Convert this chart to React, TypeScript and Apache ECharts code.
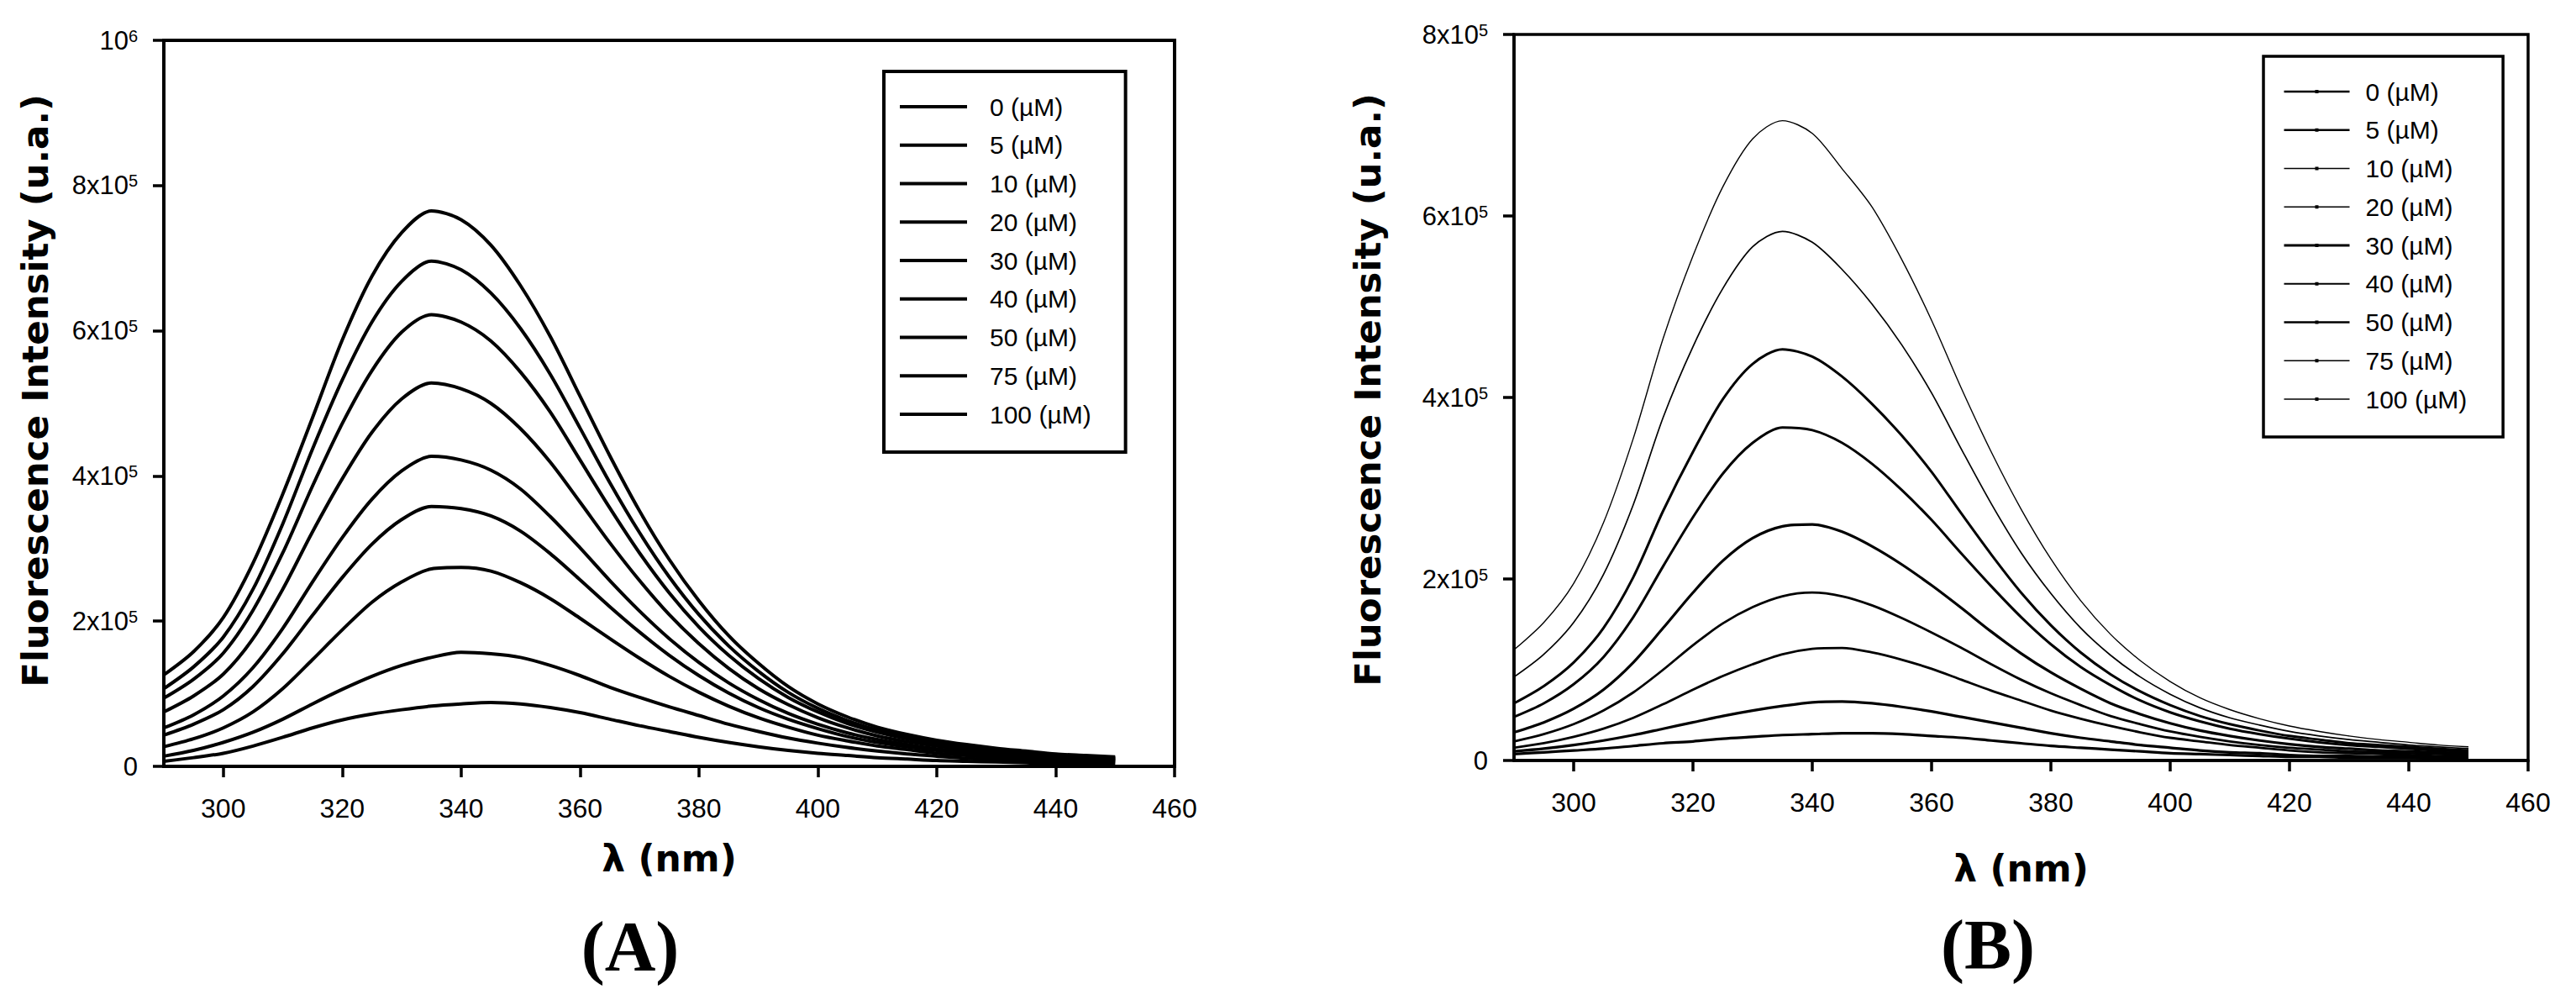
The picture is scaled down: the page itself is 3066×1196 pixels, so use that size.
import React, { useEffect, useRef } from "react";
import * as echarts from "echarts";

// Wavelengths (nm), 5 nm steps
const LAMBDA = [290, 295, 300, 305, 310, 315, 320, 325, 330, 335, 340, 345, 350, 355, 360, 365, 370, 375, 380, 385, 390, 395, 400, 405, 410, 415, 420, 425, 430, 435, 440, 445, 450];
const CONC = ["0", "5", "10", "20", "30", "40", "50", "75", "100"];
const X_TICKS = [300, 320, 340, 360, 380, 400, 420, 440, 460];

// Panel A intensities (x 10^3 a.u.)
const A_0 = [7, 12, 18, 28, 40, 53, 64, 72, 78, 83, 86, 88, 86, 81, 74, 65, 56, 48, 40, 33, 27, 22, 18, 15, 12, 10, 8, 7, 6, 5, 4, 4, 3];
const A_5 = [14, 22, 33, 47, 65, 86, 106, 124, 139, 150, 157, 155, 150, 139, 125, 109, 95, 82, 70, 58, 48, 39, 32, 26, 21, 17, 14, 11, 9, 8, 7, 6, 5];
const A_10 = [27, 38, 53, 75, 107, 147, 188, 226, 254, 272, 274, 269, 253, 231, 204, 176, 149, 124, 102, 83, 67, 54, 43, 35, 28, 23, 18, 15, 12, 10, 9, 8, 7];
const A_20 = [43, 58, 78, 110, 155, 208, 260, 306, 340, 358, 355, 345, 324, 293, 257, 220, 185, 153, 125, 101, 81, 65, 52, 41, 33, 27, 22, 18, 15, 12, 10, 9, 8];
const A_30 = [53, 71, 97, 136, 190, 254, 315, 368, 407, 427, 422, 408, 382, 344, 301, 256, 214, 176, 143, 115, 92, 73, 58, 46, 37, 30, 24, 20, 16, 14, 12, 10, 9];
const A_40 = [75, 97, 127, 176, 244, 323, 396, 460, 506, 528, 520, 500, 465, 419, 364, 308, 256, 209, 169, 135, 107, 85, 67, 53, 42, 34, 28, 23, 19, 16, 13, 11, 10];
const A_50 = [94, 120, 156, 215, 294, 386, 472, 545, 598, 622, 612, 586, 543, 488, 422, 356, 294, 239, 192, 153, 121, 95, 75, 59, 47, 38, 31, 26, 21, 18, 15, 13, 11];
const A_75 = [107, 137, 178, 244, 334, 437, 532, 612, 668, 696, 684, 652, 603, 540, 466, 391, 322, 261, 209, 166, 131, 102, 80, 63, 50, 41, 34, 28, 23, 19, 16, 14, 12];
const A_100 = [126, 158, 205, 280, 375, 480, 587, 675, 735, 765, 753, 718, 662, 592, 510, 428, 352, 285, 228, 180, 142, 110, 86, 68, 54, 44, 36, 30, 25, 21, 17, 15, 13];

// Panel B intensities (x 10^3 a.u.)
const B_0 = [7, 9, 11, 13, 16, 19, 21, 24, 26, 28, 29, 30, 30, 29, 27, 25, 22, 19, 16, 14, 12, 10, 8, 7, 6, 5, 4, 4, 3, 3, 3, 2, 2];
const B_5 = [10, 13, 17, 22, 28, 35, 42, 49, 55, 60, 64, 65, 63, 59, 54, 48, 42, 36, 30, 25, 21, 17, 14, 11, 9, 8, 6, 5, 5, 4, 4, 3, 3];
const B_10 = [14, 19, 26, 35, 47, 62, 78, 93, 106, 117, 123, 124, 119, 111, 101, 89, 77, 66, 55, 46, 38, 31, 25, 21, 17, 14, 11, 9, 8, 7, 6, 5, 5];
const B_20 = [21, 29, 40, 55, 75, 100, 127, 151, 169, 181, 185, 181, 171, 157, 141, 124, 106, 89, 74, 61, 49, 40, 32, 26, 21, 17, 14, 12, 10, 9, 8, 7, 6];
const B_30 = [31, 42, 57, 78, 108, 146, 185, 220, 245, 258, 260, 252, 236, 216, 193, 168, 142, 118, 97, 79, 63, 51, 41, 33, 27, 22, 18, 15, 13, 11, 10, 9, 8];
const B_40 = [48, 63, 84, 114, 158, 214, 268, 316, 350, 367, 364, 350, 327, 298, 265, 228, 192, 158, 128, 103, 83, 66, 53, 43, 35, 29, 24, 20, 17, 15, 13, 11, 10];
const B_50 = [63, 82, 108, 146, 202, 275, 340, 398, 437, 453, 445, 423, 393, 358, 318, 272, 227, 185, 149, 119, 95, 76, 61, 49, 40, 33, 27, 23, 19, 17, 15, 13, 11];
const B_75 = [92, 117, 152, 205, 282, 378, 456, 520, 566, 583, 571, 541, 503, 458, 405, 343, 283, 229, 184, 146, 116, 92, 73, 58, 47, 39, 32, 27, 23, 20, 17, 15, 13];
const B_100 = [122, 152, 195, 262, 355, 465, 556, 632, 685, 705, 691, 652, 610, 552, 485, 410, 340, 277, 222, 176, 139, 110, 87, 69, 56, 46, 38, 32, 27, 23, 20, 17, 15];

const A_SETS = [A_0, A_5, A_10, A_20, A_30, A_40, A_50, A_75, A_100];
const B_SETS = [B_0, B_5, B_10, B_20, B_30, B_40, B_50, B_75, B_100];
const B_WIDTHS = [3.2, 3.2, 2.8, 2.8, 3.2, 3, 3, 1.7, 1.4];
const B_LEGEND_WIDTHS = [2.5, 2.5, 1.4, 1.4, 3, 2.2, 2.5, 1.4, 1.4];

const TICK_FONT = "'Liberation Sans', Arial, sans-serif";
const TITLE_FONT = "'DejaVu Sans', Verdana, sans-serif";

const toPoints = (arr: number[]) => arr.map((v, i) => [LAMBDA[i], v * 1000]);

const yFmt = (v: number) => {
  if (v === 0) return "0";
  if (v >= 1e6) return "10{s|6}";
  return `${Math.round(v / 1e5)}x10{s|5}`;
};

function makeXAxis(gridIndex: number, lw: number, nameGap: number) {
  return {
    gridIndex,
    type: "value",
    min: 290,
    max: 460,
    axisLine: { show: true, onZero: false, lineStyle: { color: "#000", width: lw } },
    axisTick: { show: true, inside: false, length: 13, customValues: X_TICKS, lineStyle: { color: "#000", width: 3.5 } },
    axisLabel: { customValues: X_TICKS, fontSize: 32, fontFamily: TICK_FONT, color: "#000", margin: 34 },
    splitLine: { show: false },
    name: "λ (nm)",
    nameLocation: "middle",
    nameGap,
    nameTextStyle: { fontFamily: TITLE_FONT, fontWeight: "bold", fontSize: 44, color: "#000" },
  };
}

function makeYAxis(gridIndex: number, max: number, lw: number, nameGap: number, shift: number) {
  return {
    gridIndex,
    type: "value",
    min: 0,
    max,
    interval: 200000,
    axisLine: { show: true, onZero: false, lineStyle: { color: "#000", width: lw } },
    axisTick: { show: true, inside: false, length: 13, lineStyle: { color: "#000", width: 3.5 } },
    axisLabel: {
      formatter: yFmt,
      fontSize: 31,
      fontFamily: TICK_FONT,
      color: "#000",
      margin: 31,
      lineHeight: 31,
      rich: { s: { fontSize: 20, lineHeight: 20, fontFamily: TICK_FONT, color: "#000", verticalAlign: "top" } },
    },
    splitLine: { show: false },
    name: "Fluorescence Intensity (u.a.)",
    nameLocation: "middle",
    nameGap,
    nameTextStyle: { fontFamily: TITLE_FONT, fontWeight: "bold", fontSize: 43.5, color: "#000", padding: [0, 0, 0, shift] },
  };
}

export default function App() {
  const ref = useRef<HTMLDivElement>(null);

  useEffect(() => {
    if (!ref.current) return;
    const chart = echarts.init(ref.current, null, { renderer: "svg" });

    const seriesA = CONC.map((c, i) => ({
      type: "line",
      name: "A:" + c,
      xAxisIndex: 0,
      yAxisIndex: 0,
      data: toPoints(A_SETS[i]),
      showSymbol: false,
      symbol: "none",
      smooth: 0.3,
      silent: true,
      lineStyle: { color: "#000", width: 4 },
      itemStyle: { color: "#000" },
    }));
    const seriesB = CONC.map((c, i) => ({
      type: "line",
      name: "B:" + c,
      xAxisIndex: 1,
      yAxisIndex: 1,
      data: toPoints(B_SETS[i]),
      showSymbol: false,
      symbol: "rect",
      symbolSize: 4,
      smooth: 0.3,
      silent: true,
      lineStyle: { color: "#000", width: B_WIDTHS[i] },
      itemStyle: { color: "#000" },
    }));

    const legendText = { fontSize: 30, lineHeight: 30, fontFamily: TICK_FONT, color: "#000" };

    chart.setOption({
      animation: false,
      backgroundColor: "#fff",
      grid: [
        { left: 195, top: 48, width: 1203, height: 864, show: true, borderColor: "#000", borderWidth: 4, backgroundColor: "transparent" },
        { left: 1802, top: 41, width: 1207, height: 864, show: true, borderColor: "#000", borderWidth: 3.5, backgroundColor: "transparent" },
      ],
      xAxis: [makeXAxis(0, 4, 87), makeXAxis(1, 3.5, 106)],
      yAxis: [makeYAxis(0, 1000000, 4, 131, 30), makeYAxis(1, 800000, 3.5, 152, 18)],
      legend: [
        {
          orient: "vertical",
          left: 1052,
          top: 85,
          padding: [27, 41, 30, 19],
          borderColor: "#000",
          borderWidth: 4,
          backgroundColor: "#fff",
          itemWidth: 80,
          itemHeight: 4,
          itemGap: 15.75,
          icon: "rect",
          selectedMode: false,
          data: CONC.map((c) => "A:" + c),
          formatter: (n: string) => n.slice(2) + " (µM)",
          textStyle: { ...legendText, padding: [0, 0, 0, 22] },
        },
        {
          orient: "vertical",
          left: 2694,
          top: 67,
          padding: [27, 43, 30, 23],
          borderColor: "#000",
          borderWidth: 3.5,
          backgroundColor: "#fff",
          itemWidth: 78,
          itemHeight: 5,
          itemGap: 15.75,
          selectedMode: false,
          data: CONC.map((c, i) => ({ name: "B:" + c, lineStyle: { width: B_LEGEND_WIDTHS[i] } })),
          formatter: (n: string) => n.slice(2) + " (µM)",
          textStyle: { ...legendText, padding: [0, 0, 0, 14] },
        },
      ],
      graphic: [
        { type: "text", x: 750, y: 1126, style: { text: "(A)", fontSize: 84, fontWeight: "bold", fontFamily: "'Liberation Serif', 'Times New Roman', serif", fill: "#000", align: "center", verticalAlign: "middle" } },
        { type: "text", x: 2366, y: 1124, style: { text: "(B)", fontSize: 84, fontWeight: "bold", fontFamily: "'Liberation Serif', 'Times New Roman', serif", fill: "#000", align: "center", verticalAlign: "middle" } },
      ],
      series: [...seriesA, ...seriesB],
    });

    return () => chart.dispose();
  }, []);

  return <div ref={ref} style={{ position: "absolute", left: 0, top: 0, width: 3066, height: 1196 }} />;
}
